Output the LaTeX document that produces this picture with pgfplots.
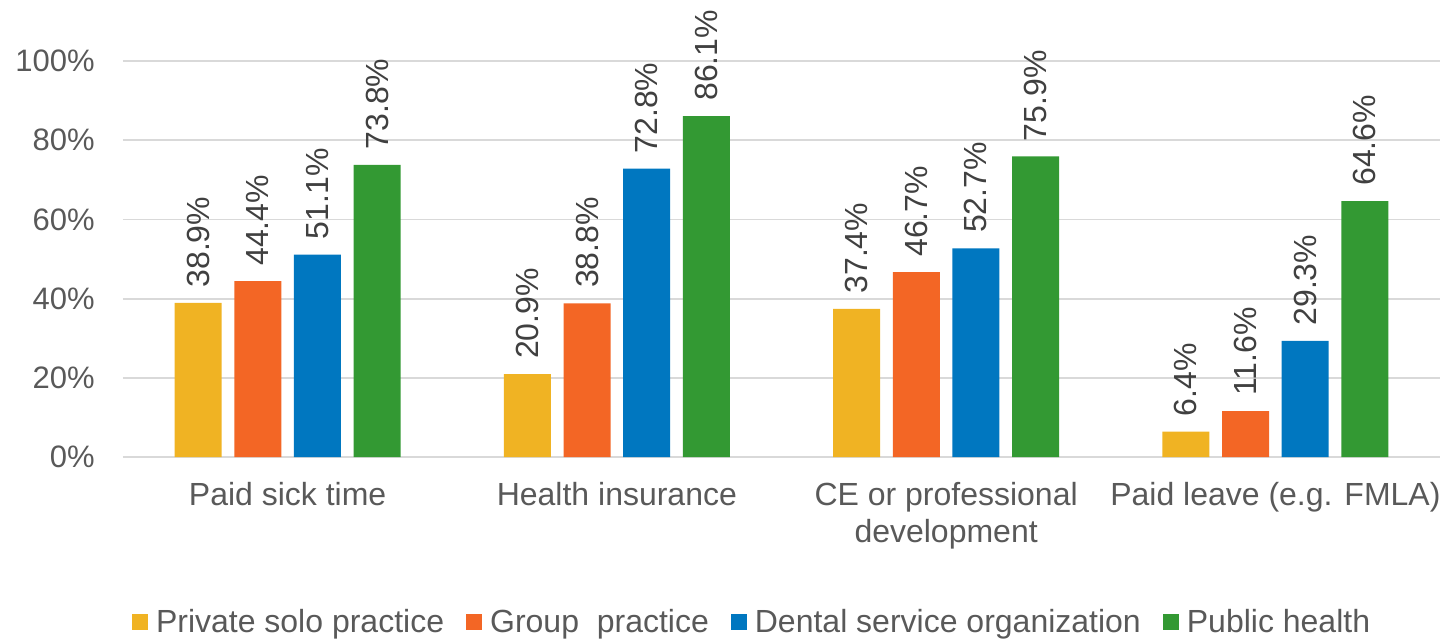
\documentclass[border=0pt]{standalone}
\usepackage{pgfplots}
\pgfplotsset{compat=1.18}
\usepackage{fontspec}
\setmainfont{Liberation Sans}
\definecolor{cYellow}{HTML}{F0B323}
\definecolor{cOrange}{HTML}{F36625}
\definecolor{cBlue}{HTML}{0077C0}
\definecolor{cGreen}{HTML}{339933}
\definecolor{txt}{HTML}{595959}
\definecolor{lbl}{HTML}{404040}
\definecolor{grid}{HTML}{D9D9D9}
\begin{document}
\begin{tikzpicture}
\useasboundingbox (0,0) rectangle (720pt,319.5pt);
\begin{axis}[
  at={(61.5pt,91pt)}, anchor=south west,
  scale only axis, width=658.5pt, height=198pt,
  xmin=-0.5, xmax=3.5, ymin=0, ymax=100,
  clip=false,
  ybar=6.35pt, bar width=23.5pt,
  axis line style={draw=none},
  major tick length=0pt,
  ymajorgrids, ytick={0,20,40,60,80,100},
  major grid style={draw=grid, line width=0.9pt},
  /pgf/number format/assume math mode=true,
  yticklabel={\pgfmathprintnumber{\tick}\%},
  yticklabel style={font=\fontsize{15.5}{18}\selectfont, text=txt, anchor=east, inner sep=0pt, xshift=-14pt},
  xtick={0,1,2,3},
  xticklabels={\strut Paid sick time, \strut Health insurance, {\strut CE or professional\\development}, \strut Paid leave (e.g. FMLA)},
  xticklabel style={font=\fontsize{16}{18.5}\selectfont, text=txt, align=center, anchor=north, inner sep=0pt, yshift=-11.05pt},
  nodes near coords={\pgfmathprintnumber[fixed,fixed zerofill,precision=1]{\pgfplotspointmeta}\%},
  nodes near coords style={font=\fontsize{16}{18}\selectfont, text=lbl, rotate=90, anchor=west, inner sep=7.5pt},
  legend columns=4,
  legend style={at={(0.00683,-0.4167)}, anchor=west, draw=none, fill=none, inner sep=0pt, outer sep=0pt,
    font=\fontsize{16}{18}\selectfont, text=txt,
    nodes={inner sep=0pt},
    /tikz/every odd column/.append style={column sep=4pt},
    /tikz/every even column/.append style={column sep=11pt}},
  legend image code/.code={\fill[#1,draw=none] (0pt,-4pt) rectangle (8pt,4pt);},
]
\addplot[fill=cYellow, draw=none] coordinates {(0,38.9) (1,20.9) (2,37.4) (3,6.4)};
\addplot[fill=cOrange, draw=none] coordinates {(0,44.4) (1,38.8) (2,46.7) (3,11.6)};
\addplot[fill=cBlue, draw=none] coordinates {(0,51.1) (1,72.8) (2,52.7) (3,29.3)};
\addplot[fill=cGreen, draw=none] coordinates {(0,73.8) (1,86.1) (2,75.9) (3,64.6)};
\legend{Private solo practice, Group\ \ practice, Dental service organization, Public health}
\end{axis}
\end{tikzpicture}
\end{document}
